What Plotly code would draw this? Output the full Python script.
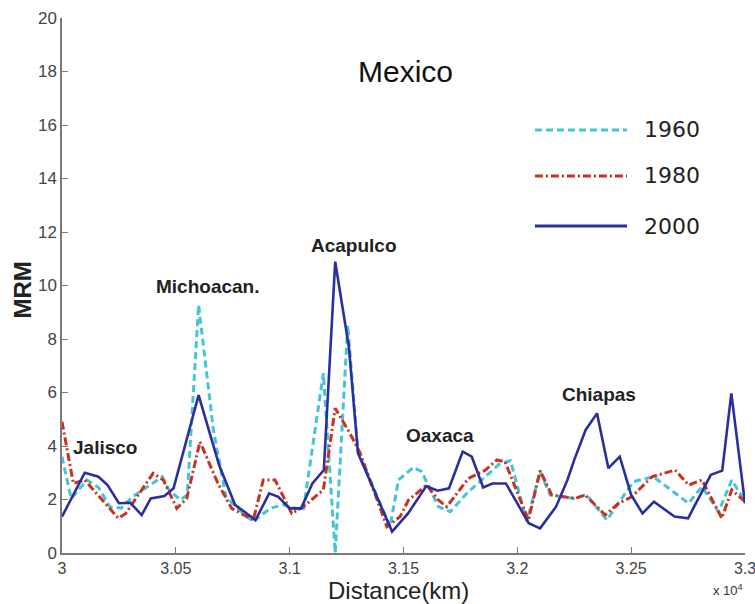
import plotly.graph_objects as go

# ---------------- data (distance in units of 10^4 km) ----------------
x1960 = [3.000, 3.004, 3.011, 3.016, 3.021, 3.026, 3.031, 3.044, 3.047, 3.052, 3.055,
         3.060, 3.0665, 3.072, 3.078, 3.084, 3.0914, 3.097, 3.106, 3.1148, 3.120, 3.1255,
         3.130, 3.1441, 3.1478, 3.1543, 3.158, 3.1653, 3.1705, 3.1778, 3.1924, 3.197,
         3.2042, 3.210, 3.2144, 3.2247, 3.2305, 3.2393, 3.251, 3.2598, 3.2752, 3.2811,
         3.2884, 3.2942, 3.300]
y1960 = [3.60, 2.04, 2.73, 2.45, 1.73, 1.68, 2.10, 2.85, 2.36, 1.98, 2.17,
         9.27, 4.60, 2.10, 1.60, 1.17, 1.67, 1.80, 1.60, 6.72, 0.00, 8.52,
         3.80, 0.98, 2.73, 3.20, 3.04, 1.73, 1.54, 2.23, 3.35, 3.45,
         1.17, 3.04, 2.17, 2.04, 2.17, 1.23, 2.67, 2.85, 1.86, 2.48,
         1.54, 2.73, 1.92]

x1980 = [3.000, 3.005, 3.010, 3.0247, 3.028, 3.040, 3.0445, 3.0504, 3.0548, 3.0606,
         3.0685, 3.0745, 3.084, 3.0884, 3.0936, 3.1009, 3.106, 3.1148, 3.120, 3.1265,
         3.131, 3.1427, 3.1485, 3.1522, 3.1602, 3.1653, 3.169, 3.1785, 3.186, 3.191,
         3.1946, 3.2049, 3.210, 3.2151, 3.2254, 3.2298, 3.2386, 3.2445, 3.2503, 3.2591,
         3.2693, 3.2752, 3.2811, 3.2898, 3.2942, 3.300]
y1980 = [4.91, 2.60, 2.73, 1.30, 1.48, 2.98, 2.73, 1.67, 2.04, 4.16,
         2.60, 1.67, 1.23, 2.73, 2.73, 1.48, 1.73, 2.36, 5.41, 4.47,
         3.73, 0.98, 1.36, 1.98, 2.54, 1.98, 1.73, 2.79, 3.10, 3.48,
         3.41, 1.23, 3.08, 2.17, 2.04, 2.17, 1.42, 1.86, 2.10, 2.85,
         3.10, 2.54, 2.73, 1.30, 2.36, 1.92]

x2000 = [3.000, 3.010, 3.016, 3.020, 3.025, 3.030, 3.035, 3.039, 3.045, 3.049, 3.060,
         3.069, 3.076, 3.085, 3.091, 3.095, 3.100, 3.105, 3.110, 3.115, 3.120, 3.126,
         3.130, 3.145, 3.152, 3.160, 3.165, 3.170, 3.176, 3.180, 3.185, 3.189, 3.195,
         3.205, 3.210, 3.217, 3.222, 3.225, 3.230, 3.235, 3.240, 3.245, 3.250, 3.255,
         3.260, 3.269, 3.275, 3.285, 3.290, 3.294, 3.300]
y2000 = [1.36, 3.00, 2.85, 2.54, 1.86, 1.88, 1.42, 2.04, 2.13, 2.42, 5.90,
         3.29, 1.80, 1.23, 2.23, 2.10, 1.67, 1.67, 2.60, 3.10, 10.89, 7.71,
         3.73, 0.80, 1.48, 2.50, 2.33, 2.42, 3.79, 3.60, 2.45, 2.60, 2.60,
         1.11, 0.92, 1.73, 2.73, 3.48, 4.60, 5.22, 3.17, 3.60, 2.17, 1.48,
         1.92, 1.36, 1.30, 2.92, 3.08, 5.97, 1.86]

series_names = ["1960", "1980", "2000"]
x_ticks = [3.0, 3.05, 3.1, 3.15, 3.2, 3.25, 3.3]
x_tick_labels = ["3", "3.05", "3.1", "3.15", "3.2", "3.25", "3.3"]
y_ticks = [0, 2, 4, 6, 8, 10, 12, 14, 16, 18, 20]

place_names = ["Jalisco", "Michoacan.", "Acapulco", "Oaxaca", "Chiapas"]
place_x = [3.0189, 3.0637, 3.1283, 3.1661, 3.2360]
place_y = [3.96, 9.98, 11.51, 4.41, 5.91]

# ---------------- styles ----------------
C1960 = "#45C4D6"
C1980 = "#C8321E"
C2000 = "#2B2F9E"
DASH1960 = "7px,4px"
DASH1980 = "8px,3px,2px,3px"

fig = go.Figure()
fig.add_trace(go.Scatter(x=x1960, y=y1960, mode="lines", name=series_names[0],
                         line=dict(color=C1960, width=3, dash=DASH1960)))
fig.add_trace(go.Scatter(x=x1980, y=y1980, mode="lines", name=series_names[1],
                         line=dict(color=C1980, width=3, dash=DASH1980)))
fig.add_trace(go.Scatter(x=x2000, y=y2000, mode="lines", name=series_names[2],
                         line=dict(color=C2000, width=2.6)))

# manual legend
leg_y = [0.7907, 0.7047, 0.6112]
leg_col = [C1960, C1980, C2000]
leg_dash = [DASH1960, DASH1980, "solid"]
shapes = []
annotations = []
for name, yy, col, dsh in zip(series_names, leg_y, leg_col, leg_dash):
    shapes.append(dict(type="line", xref="paper", yref="paper",
                       x0=0.6925, x1=0.8272, y0=yy, y1=yy,
                       line=dict(color=col, width=3, dash=dsh)))
    annotations.append(dict(xref="paper", yref="paper", x=0.849, y=yy,
                            text=name, showarrow=False, xanchor="left",
                            yanchor="middle",
                            font=dict(family="DejaVu Sans", size=22, color="#222")))

for nm, px_, py_ in zip(place_names, place_x, place_y):
    annotations.append(dict(x=px_, y=py_, text="<b>%s</b>" % nm, showarrow=False,
                            xanchor="center", yanchor="middle",
                            font=dict(family="Liberation Sans", size=19, color="#222")))

annotations.append(dict(x=3.1507, y=18.0, text="Mexico", showarrow=False,
                        xanchor="center", yanchor="middle",
                        font=dict(family="Liberation Sans", size=30, color="#111")))
annotations.append(dict(xref="paper", yref="paper", x=0.492, y=-0.071,
                        text="Distance(km)", showarrow=False,
                        xanchor="center", yanchor="middle",
                        font=dict(family="Liberation Sans", size=24, color="#222")))
annotations.append(dict(xref="paper", yref="paper", x=1.0, y=-0.069,
                        text="x 10<sup>4</sup>", showarrow=False,
                        xanchor="right", yanchor="middle",
                        font=dict(family="Liberation Sans", size=13, color="#333")))
annotations.append(dict(xref="paper", yref="paper", x=-0.0578, y=0.4916,
                        text="<b>MRM</b>", showarrow=False, textangle=-90,
                        xanchor="center", yanchor="middle",
                        font=dict(family="Liberation Sans", size=24, color="#222")))

fig.update_layout(
    width=755, height=604,
    margin=dict(l=62, r=10, t=18, b=51, autoexpand=False),
    paper_bgcolor="white", plot_bgcolor="white",
    showlegend=False,
    shapes=shapes, annotations=annotations,
    font=dict(family="Liberation Sans", color="#333"),
)
fig.update_xaxes(range=[3.0, 3.3], tickvals=x_ticks, ticktext=x_tick_labels,
                 showgrid=False, zeroline=False, showline=True, linecolor="#7a7a7a",
                 linewidth=1.5, ticks="inside", ticklen=6, tickcolor="#7a7a7a",
                 ticklabeloverflow="allow", automargin=False,
                 tickfont=dict(size=16, color="#444"))
fig.update_yaxes(range=[0, 20], tickvals=y_ticks,
                 showgrid=False, zeroline=False, showline=True, linecolor="#7a7a7a",
                 linewidth=1.5, ticks="inside", ticklen=6, tickcolor="#7a7a7a",
                 automargin=False,
                 tickfont=dict(size=17, color="#444"))

# remove the browser's default 8px page margin so the figure fills the window exactly
fig.write_html("out.html", config={"displayModeBar": False},
               post_script="document.body.style.margin='0';")
